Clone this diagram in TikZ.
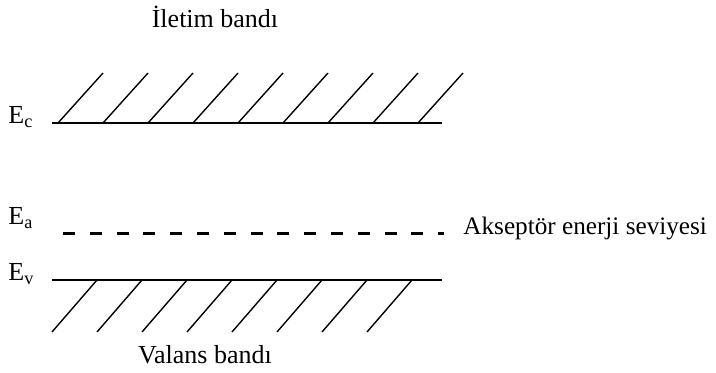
\documentclass[tikz,border=0pt]{standalone}
\usepackage{fontspec}
\setmainfont{Liberation Serif}
\usepackage{tikz}
\usetikzlibrary{positioning}

\begin{document}
\begin{tikzpicture}[x=0.5pt, y=-0.5pt, font=\fontsize{13}{15}\selectfont]
\useasboundingbox (0,0) rectangle (716,373);
% --- conduction band ---
\node (ilt) at (215,17) {İletim bandı};
\draw[line width=0.8pt] (52,123) -- (442,123);
\foreach \i in {0,...,8} {
\draw[line width=0.7pt] (58+45*\i,123) -- (103+45*\i,73);
}
\node[anchor=base west, inner sep=0pt] (ec) at (8,124) {E\textsubscript{c}};
% --- acceptor level ---
\node[anchor=base west, inner sep=0pt] (ea) at (8,225) {E\textsubscript{a}};
\draw[line width=1.5pt, dash pattern=on 6pt off 7.4pt] (63,234) -- (444,234);
\node[anchor=base west, inner sep=0pt, font=\fontsize{12.6}{15}\selectfont] (akc) at (463,235) {Akseptör enerji seviyesi};
% --- valence band ---
\node[anchor=base west, inner sep=0pt] (ev) at (8,281) {E\textsubscript{v}};
\draw[line width=0.8pt] (52,280) -- (442,280);
\foreach \i in {0,...,7} {
\draw[line width=0.7pt] (97+45*\i,280) -- (52+45*\i,332);
}
\node (val) at (205,355) {Valans bandı};
\end{tikzpicture}
\end{document}
